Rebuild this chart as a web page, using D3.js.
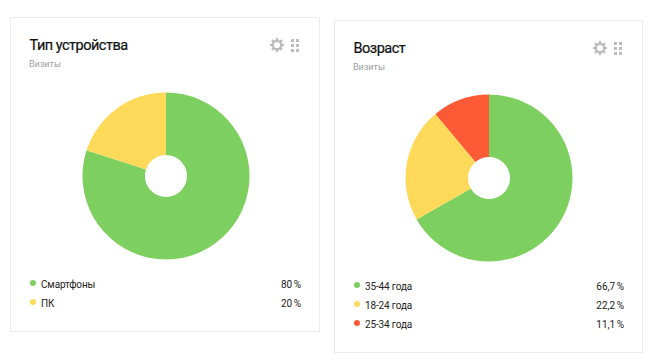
<!DOCTYPE html>
<html>
<head>
<meta charset="utf-8">
<script src="https://cdn.jsdelivr.net/npm/d3@7"></script>
<style>
body { margin: 0; background: #fff; }
svg { display: block; }
text { font-family: Roboto, "Noto Sans", sans-serif; }
</style>
</head>
<body>
<div id="chart"></div>
<script>
// data
var deviceLabels = ["Смартфоны", "ПК"];
var deviceValues = [80, 20];
var devicePercents = ["80 %", "20 %"];

var ageLabels = ["35-44 года", "18-24 года", "25-34 года"];
var ageValues = [66.7, 22.2, 11.1];
var agePercents = ["66,7 %", "22,2 %", "11,1 %"];

var sliceColors = ["#7dd05f", "#ffd95a", "#ff5a36"];

var svg = d3.select("#chart").append("svg")
  .attr("width", 658)
  .attr("height", 360);

function drawGear(g, x, y) {
  var gear = g.append("g").attr("transform", "translate(" + x + "," + y + ")");
  gear.append("circle").attr("r", 4.2)
    .attr("fill", "none").attr("stroke", "#bcbcbc").attr("stroke-width", 2.2);
  d3.range(8).forEach(function (i) {
    gear.append("rect")
      .attr("x", -1.2).attr("y", -7).attr("width", 2.4).attr("height", 2.6)
      .attr("fill", "#bcbcbc")
      .attr("transform", "rotate(" + i * 45 + ")");
  });
}

function drawDots(g, x, y) {
  d3.range(3).forEach(function (row) {
    d3.range(2).forEach(function (col) {
      g.append("rect")
        .attr("x", x + col * 5).attr("y", y + row * 5)
        .attr("width", 3).attr("height", 3)
        .attr("fill", "#bcbcbc");
    });
  });
}

function drawCard(o) {
  var g = svg.append("g");

  g.append("rect")
    .attr("x", o.x + 0.5).attr("y", o.y + 0.5)
    .attr("width", o.w).attr("height", o.h)
    .attr("fill", "#fff").attr("stroke", "#ececec");

  g.append("text")
    .attr("x", o.x + 19.5).attr("y", o.y + 33)
    .attr("font-size", 14.5).attr("letter-spacing", -0.5).attr("fill", "#111")
    .attr("stroke", "#111").attr("stroke-width", 0.2)
    .text(o.title);

  g.append("text")
    .attr("x", o.x + 19).attr("y", o.y + 50)
    .attr("font-size", 9).attr("fill", "#a0a0a0")
    .text("Визиты");

  drawGear(g, o.x + o.w - 42, o.y + 28);
  drawDots(g, o.x + o.w - 28, o.y + 22);

  var pie = d3.pie().sort(null)(o.values);
  var arc = d3.arc().innerRadius(21).outerRadius(83.5);

  g.append("g")
    .attr("transform", "translate(" + o.cx + "," + o.cy + ")")
    .selectAll("path")
    .data(pie)
    .join("path")
    .attr("d", arc)
    .attr("fill", function (d, i) { return sliceColors[i]; });

  var rows = g.selectAll("g.row")
    .data(o.labels)
    .join("g")
    .attr("class", "row")
    .attr("transform", function (d, i) {
      return "translate(0," + (o.legendY + i * o.legendStep) + ")";
    });

  rows.append("circle")
    .attr("cx", o.x + 23).attr("cy", -1).attr("r", 3)
    .attr("fill", function (d, i) { return sliceColors[i]; });

  rows.append("text")
    .attr("x", o.x + 31).attr("y", 4)
    .attr("font-size", 10).attr("letter-spacing", -0.15).attr("fill", "#222")
    .text(function (d) { return d; });

  rows.append("text")
    .attr("x", o.x + o.w - 18).attr("y", 4)
    .attr("text-anchor", "end")
    .attr("font-size", 10).attr("word-spacing", -1).attr("fill", "#222")
    .text(function (d, i) { return o.percents[i]; });
}

drawCard({
  x: 10, y: 17, w: 309, h: 314,
  cx: 166, cy: 176,
  title: "Тип устройства",
  labels: deviceLabels, values: deviceValues, percents: devicePercents,
  legendY: 284, legendStep: 19
});

drawCard({
  x: 334, y: 20, w: 308, h: 332,
  cx: 489, cy: 178,
  title: "Возраст",
  labels: ageLabels, values: ageValues, percents: agePercents,
  legendY: 286, legendStep: 19
});
</script>
</body>
</html>
